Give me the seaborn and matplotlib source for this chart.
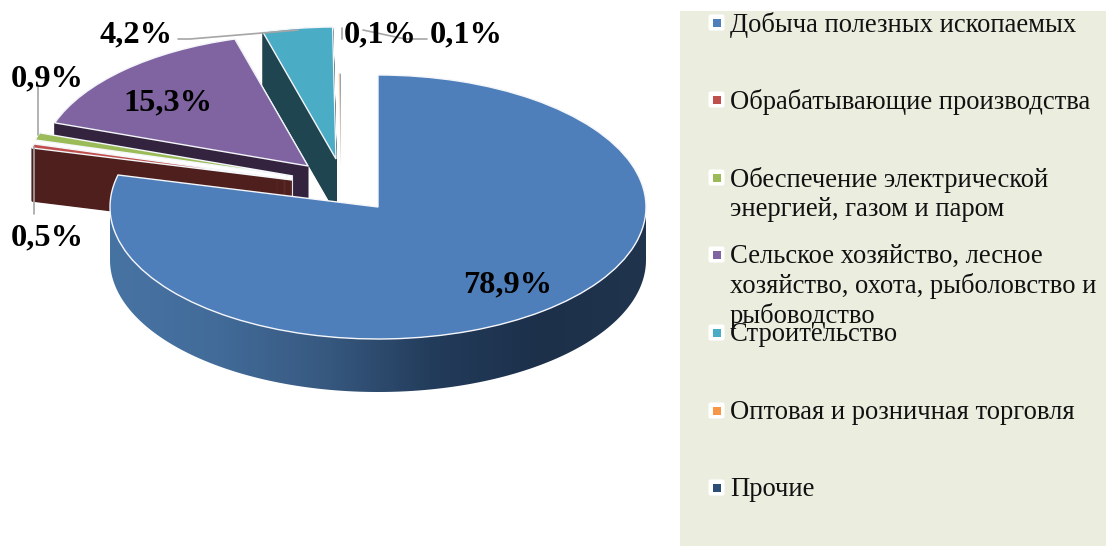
import numpy as np
import matplotlib
matplotlib.use('Agg')
import matplotlib.pyplot as plt
import seaborn as sns
from matplotlib.patches import Polygon, Rectangle, FancyBboxPatch

sns.set_theme(style='white')
plt.rcParams['font.family'] = ['Liberation Serif', 'DejaVu Serif']

# данные
categories = ['Добыча полезных ископаемых', 'Обрабатывающие производства',
              'Обеспечение электрической\nэнергией, газом и паром',
              'Сельское хозяйство, лесное\nхозяйство, охота, рыболовство и\nрыбоводство',
              'Строительство', 'Оптовая и розничная торговля', 'Прочие']
shares = [78.9, 0.5, 0.9, 15.3, 4.2, 0.1, 0.1]
share_labels = ['78,9%', '0,5%', '0,9%', '15,3%', '4,2%', '0,1%', '0,1%']

top_colors = sns.color_palette(['#4f7fbb', '#c0504d', '#9bbb59', '#8064a2', '#4bacc6', '#f79646', '#2c4d75'])
side_colors = ['#2a4a70', '#4e1f1c', '#ffffff', '#33233f', '#1f4550', '#f0c8b0', '#f0c8b0']

# геометрия в пикселях картинки
W, H = 1106, 546
CX, CY, RX, RY = 378, 207, 268, 132
DEPTH = 53
slice_shift = [(0, 0), (-86, -27), (-85, -31), (-70, -41), (-42, -48), (-37, -41), (-37, -41)]
draw_order = [6, 5, 4, 3, 2, 1, 0]

label_pos = [(508, 285), (47, 238), (47, 79), (168, 103), (136, 35), (380, 35), (466, 35)]
leaders = [[(178, 39), (190, 39), (298, 30)],
           [(38, 87), (38, 135)],
           [(34, 147), (34, 214)],
           [(342, 28), (342, 39)],
           [(427, 39), (405, 39), (363, 30)]]
legend_y = [23, 100, 178, 255, 333, 411, 488]

fig = plt.figure(figsize=(W / 100, H / 100), dpi=100)
ax = fig.add_axes([0, 0, 1, 1])


def pie_layer(depth, colors, z, lw, edge=None):
    wedges, _ = ax.pie(shares, startangle=90, counterclock=False, colors=colors)
    for i, w in enumerate(wedges):
        dx, dy = slice_shift[i]
        w.set_center((dx / RX, -(dy + depth) / RY))
        w.set_zorder(z[i])
        w.set_linewidth(lw)
        w.set_edgecolor(edge if edge else colors[i])
    return wedges


rank = {s: n for n, s in enumerate(draw_order)}

# боковые стенки отдельных секторов
for d in range(DEPTH, 0, -1):
    side = pie_layer(d, side_colors, [rank[i] * 10 + 1 for i in range(7)], 1.0)
    side[0].set_visible(False)
    side[5].set_visible(False)
    side[6].set_visible(False)

# верхняя грань
top = pie_layer(0, list(top_colors), [rank[i] * 10 + 5 for i in range(7)], 1.0, edge='#f4f6fa')
for i in (5, 6):
    top[i].set_radius(0.7)
    top[i].set_linewidth(0)
    top[i].set_alpha(0.5)

# стенка большого сектора с градиентом
theta = np.radians(np.linspace(180, 360, 200))
arc = np.column_stack([np.cos(theta), np.sin(theta)])
low = arc[::-1] - [0, DEPTH / RY]
clip = Polygon(np.vstack([arc, low]), closed=True, transform=ax.transData, facecolor='none', edgecolor='none')
ax.add_patch(clip)
cmap = sns.blend_palette(['#4773a3', '#426b99', '#375980', '#233c5b', '#1c304a', '#20344e'], as_cmap=True)
grad = ax.imshow(np.linspace(0, 1, 256)[None, :], extent=(-1, 1, -1.6, 0.2), cmap=cmap,
                 aspect='auto', zorder=rank[0] * 10 + 2)
grad.set_clip_path(clip)

ax.set_aspect('auto')
ax.set_xlim(-CX / RX, (W - CX) / RX)
ax.set_ylim((CY - H) / RY, CY / RY)
ax.axis('off')

# подписи и легенда в пикселях
over = fig.add_axes([0, 0, 1, 1])
over.set_xlim(0, W)
over.set_ylim(H, 0)
over.axis('off')
over.patch.set_alpha(0)

over.add_patch(Rectangle((680, 11), W - 680, H - 11, facecolor='#ebeddf', edgecolor='none', zorder=0))

for line in leaders:
    xs, ys = zip(*line)
    over.plot(xs, ys, color='#a6a6a6', lw=1.2, zorder=2)

for txt, (x, y) in zip(share_labels, label_pos):
    over.text(x, y, txt, ha='center', va='center', fontsize=23.3, fontweight='bold', color='black', zorder=3)

for name, col, y in zip(categories, top_colors, legend_y):
    over.add_patch(FancyBboxPatch((710, y - 7), 13, 13, boxstyle='round,pad=1.5,rounding_size=2',
                                  facecolor='white', edgecolor='none', zorder=1))
    over.add_patch(Rectangle((712.5, y - 4.5), 8, 8, facecolor=col, edgecolor='none', zorder=2))
    over.text(730, y - 11, name, ha='left', va='top', fontsize=19.2, color='#111111',
              linespacing=1.2, zorder=3)

fig.savefig('out.png', dpi=100)
